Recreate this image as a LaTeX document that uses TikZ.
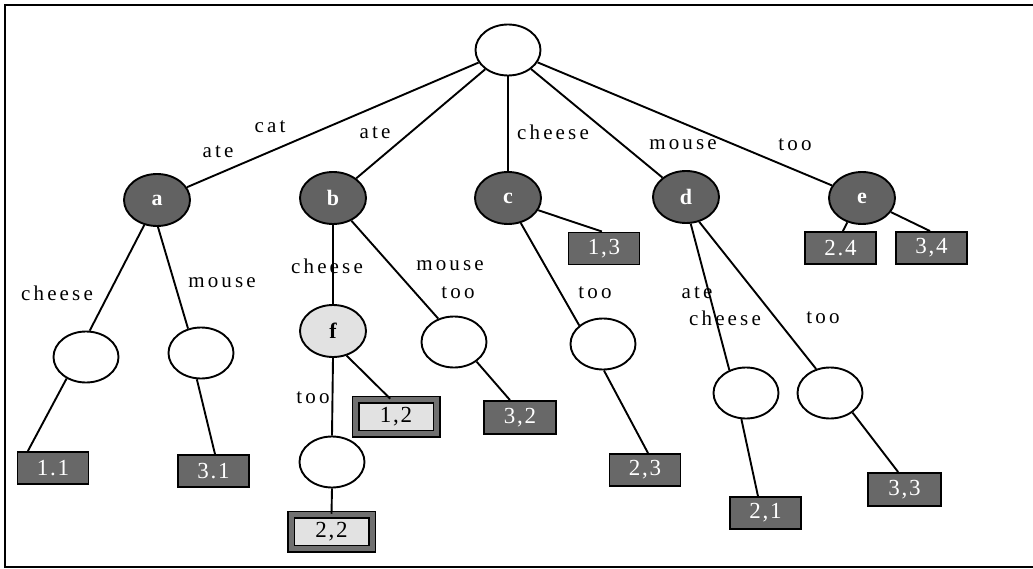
\documentclass[tikz,border=0pt]{standalone}
\usepackage{fontspec}
\setmainfont{Liberation Serif}
\usetikzlibrary{shapes.geometric}
\definecolor{darkfill}{RGB}{98,98,98}
\definecolor{boxfill}{RGB}{104,104,104}
\definecolor{lightfill}{RGB}{226,226,226}
\definecolor{bandgray}{RGB}{112,112,112}
\begin{document}
\begin{tikzpicture}[x=1pt,y=-1pt,
  edge/.style={line width=1.9pt},
  lbl/.style={font=\fontsize{21}{21}\selectfont\addfontfeatures{LetterSpace=15}, inner sep=0pt},
  blank/.style={ellipse, draw=black, line width=1.9pt, fill=white, inner sep=0pt,
    minimum width=65pt, minimum height=51pt},
  inner/.style={ellipse, draw=black, line width=1.9pt, fill=darkfill, inner sep=0pt,
    minimum width=66pt, minimum height=52pt, text=white,
    font=\fontsize{22}{22}\selectfont\bfseries},
  split/.style={inner, fill=lightfill, text=black},
  post/.style={rectangle, draw=black, line width=1.9pt, fill=boxfill, text=white,
    inner sep=0pt, minimum width=71pt, minimum height=32pt,
    font=\fontsize{23}{23}\selectfont\addfontfeatures{LetterSpace=8}},
  dpost/.style={post, fill=lightfill, text=black, line width=1.5pt,
    double=bandgray, double distance=5pt, minimum width=81pt, minimum height=34pt}
]
\useasboundingbox (0,0) rectangle (1033,569);
\clip (0,0) rectangle (1033,569);

% frame
\draw[line width=2.2pt] (1040,5) -- (5,5) -- (5,567) -- (1040,567);

% edge labels
\node[lbl] (lcat)  at (270,127) {cat};
\node[lbl] (late1) at (218,152) {ate};
\node[lbl] (late2) at (375,133) {ate};
\node[lbl] (lch1)  at (553,132) {cheese};
\node[lbl] (lmo1)  at (683,145) {mouse};
\node[lbl] (ltoo1) at (795,145) {too};
\node[lbl] (lch2)  at (57,293)  {cheese};
\node[lbl] (lmo2)  at (222,283) {mouse};
\node[lbl] (lch3)  at (327,266) {cheese};
\node[lbl] (ltoo2) at (313,398) {too};
\node[lbl] (lmo3)  at (450,266) {mouse};
\node[lbl] (ltoo3) at (458,293) {too};
\node[lbl] (ltoo4) at (595,293) {too};
\node[lbl] (late3) at (697,293) {ate};
\node[lbl] (lch4)  at (725,318) {cheese};
\node[lbl] (ltoo5) at (823,318) {too};

% tree nodes
\node[blank] (root) at (508,50) {};
\node[inner] (a) at (157,200) {a};
\node[inner] (b) at (333,198) {b};
\node[inner] (c) at (508,198) {c};
\node[inner] (d) at (686,197) {d};
\node[inner] (e) at (862,198) {e};
\node[blank] (la) at (86,357) {};
\node[blank] (ra) at (201,353) {};
\node[split] (f) at (333,331) {f};
\node[blank] (fo) at (332,462) {};
\node[blank] (bm) at (454,342) {};
\node[blank] (ct) at (603,344) {};
\node[blank] (dl) at (746,393) {};
\node[blank] (dr) at (830,393) {};

% postings
\node[post] (p11) at (53,468) {1.1};
\node[post] (p31) at (213.5,471) {3.1};
\node[dpost] (p22) at (331.5,531.5) {2,2};
\node[dpost] (p12) at (396,416.5) {1,2};
\node[post, minimum width=72pt, minimum height=33pt] (p32) at (520,417.5) {3,2};
\node[post] (p13) at (604,248.5) {1,3};
\node[post] (p23) at (645,470) {2,3};
\node[post] (p21) at (765.5,513) {2,1};
\node[post, minimum width=73pt, minimum height=33pt] (p33) at (904.5,489.5) {3,3};
\node[post] (p24) at (840.5,248) {2.4};
\node[post] (p34) at (931.5,248) {3,4};

% connectors
\draw[edge] (root) -- (a);
\draw[edge] (root) -- (b);
\draw[edge] (root) -- (c);
\draw[edge] (root) -- (d);
\draw[edge] (root) -- (e);
\draw[edge] (a.-117) -- (la.82);
\draw[edge] (a.-88) -- (ra.118);
\draw[edge] (la.-132) -- (p11.146);
\draw[edge] (ra.-99) -- (p31.85);
\draw[edge] (b.-90) -- (f.90);
\draw[edge] (b.-51) -- (bm.124);
\draw[edge] (f.-61) -- (p12.108);
\draw[edge] (f.-90) -- (fo.90);
\draw[edge] (fo.-90) -- (p22.90);
\draw[edge] (bm.-41) -- (p32.120);
\draw[edge] (c.-63) -- (ct.142);
\draw[edge] (c.-22) -- (p13.97);
\draw[edge] (ct.-88) -- (p23.80);
\draw[edge] (d.-80) -- (dl.126);
\draw[edge] (d.-62) -- (dr.120);
\draw[edge] (dl.-100) -- (p21.114);
\draw[edge] (dr.-41) -- (p33.110);
\draw[edge] (e.-121) -- (p24.82);
\draw[edge] (e.-26) -- (p34.95);
\end{tikzpicture}
\end{document}
